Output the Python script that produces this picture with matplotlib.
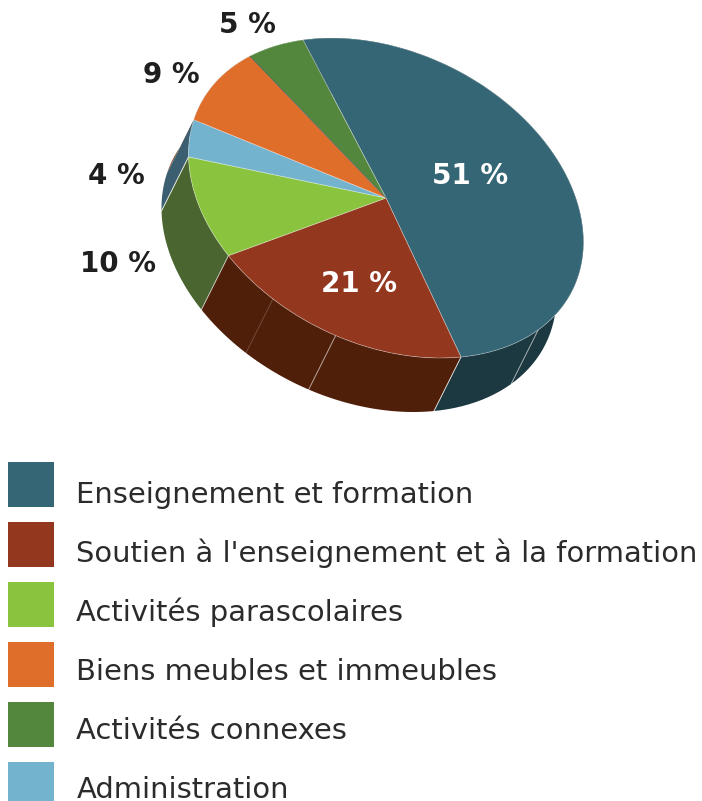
import matplotlib
matplotlib.use('Agg')
import matplotlib.pyplot as plt
import numpy as np
from matplotlib.patches import Rectangle
from matplotlib.transforms import Affine2D

# slice shares, labels as printed on the chart
categories = ['Enseignement et formation',
              "Soutien à l'enseignement et à la formation",
              'Activités parascolaires',
              'Biens meubles et immeubles',
              'Activités connexes',
              'Administration']
pie_values = [50.7, 20.9, 10.0, 4.0, 9.2, 5.2]
pie_labels = ['51 %', '21 %', '10 %', '4 %', '9 %', '5 %']
pie_colors = ['#356675', '#93371e', '#8ac43f', '#74b3ce', '#e06e2b', '#54873e']
# the wall colours do not follow the slices at the back of the pie
wall_colors = ['#1c3840', '#4f1f0a', '#4a6530', '#3b5f70', '#8a5a3c', '#4a6530']
legend_colors = ['#356675', '#93371e', '#8ac43f', '#e06e2b', '#54873e', '#74b3ce']
# seams on the wall, as a cumulative share of the pie
seam_at = [42.9, 50.7, 61.0, 66.6, 71.6, 81.6]
seam_alpha = [0.6, 0.75, 0.6, 0.2, 0.6, 0.8]

# label positions in pixels
label_xy = [(470, 176), (359, 284), (118, 264), (116, 176), (171, 75), (247, 25)]
label_color = ['white', 'white', '#1f1f1f', '#1f1f1f', '#1f1f1f', '#1f1f1f']

W, H = 702, 801
fig = plt.figure(figsize=(W / 100, H / 100), dpi=100)
ax = fig.add_axes([0, 0, 1, 1])

# unit circle -> tilted ellipse in pixel coords (y down)
cx, cy = 386, 198
M = np.array([[195.97, 24.54], [24.54, 158.11]]) @ np.diag([1, -1])
dx, dy = -27, 54
start = 107.7


def arc_pts(p0, p1, n=80):
    a = np.radians(start - np.linspace(p0, p1, n) * 3.6)
    xy = M @ np.vstack([np.cos(a), np.sin(a)])
    return xy[0] + cx, xy[1] + cy


# walls first, back ones before front ones
edges = np.concatenate([[0], np.cumsum(pie_values)])
for i in [5, 4, 3, 0, 1, 2]:
    x, y = arc_pts(edges[i], edges[i + 1])
    ax.fill(np.r_[x, x[::-1] + dx], np.r_[y, y[::-1] + dy],
            color=wall_colors[i], lw=0, zorder=1)

for p, a in zip(seam_at, seam_alpha):
    x, y = arc_pts(p, p, 1)
    ax.plot([x[0], x[0] + dx], [y[0], y[0] + dy], color='white', lw=0.7,
            alpha=a, zorder=2)

wedges, _ = ax.pie(pie_values, colors=pie_colors, startangle=start, counterclock=False,
                   wedgeprops={'edgecolor': (1, 1, 1, 0.35), 'linewidth': 0.6})
tf = Affine2D.from_values(M[0, 0], M[1, 0], M[0, 1], M[1, 1], cx, cy) + ax.transData
for w in wedges:
    w.set_transform(tf)
    w.set_zorder(3)

# dark hairline between the orange and the green slice
x, y = arc_pts(edges[5], edges[5], 1)
ax.plot([cx, x[0]], [cy, y[0]], color='#222222', lw=0.6, alpha=0.6, zorder=4)

ax.set_aspect('auto')
ax.set_xlim(0, W)
ax.set_ylim(H, 0)
ax.axis('off')

for s, (x, y), c in zip(pie_labels, label_xy, label_color):
    ax.text(x, y, s, color=c, fontsize=20, fontweight='bold', ha='center', va='center', zorder=5)

for i, (name, c) in enumerate(zip(categories, legend_colors)):
    ax.add_patch(Rectangle((8, 462 + 60 * i), 46, 45, facecolor=c, edgecolor='none', zorder=5))
    ax.text(76.5, 503 + 59 * i, name, color='#2b2b2b', fontsize=20.9, ha='left', va='baseline', zorder=5)

fig.savefig('out.png', dpi=100, facecolor='white')
